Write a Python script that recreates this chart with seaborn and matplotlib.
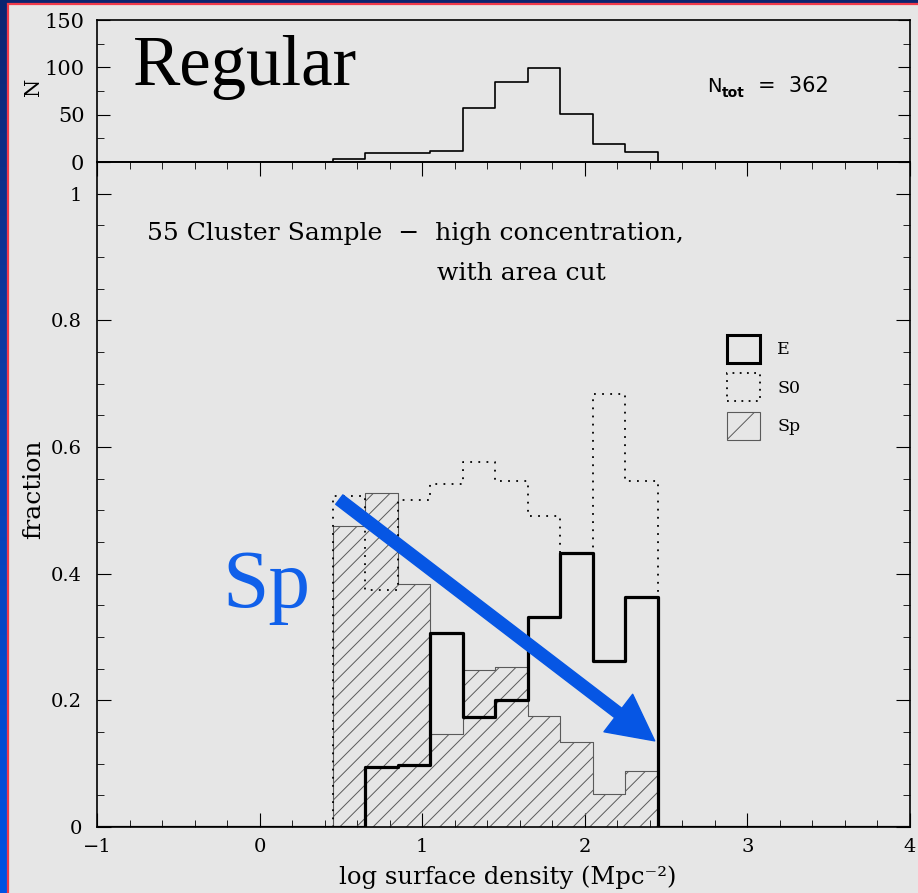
import numpy as np
import pandas as pd
import matplotlib
matplotlib.use("Agg")
import matplotlib.pyplot as plt
import seaborn as sns
from matplotlib.patches import Patch, Rectangle
from matplotlib.colors import LinearSegmentedColormap
from matplotlib.ticker import MultipleLocator, FuncFormatter

# ---- data ----
bin_edges = [0.45, 0.65, 0.85, 1.05, 1.25, 1.45, 1.65, 1.85, 2.05, 2.25, 2.45]
n_counts = [3, 10, 9, 12, 57, 84, 99, 51, 19, 11]
e_frac = [0.000, 0.094, 0.098, 0.306, 0.174, 0.200, 0.331, 0.432, 0.262, 0.363]
s0_frac = [0.522, 0.374, 0.517, 0.541, 0.577, 0.547, 0.491, 0.432, 0.683, 0.547]
sp_frac = [0.475, 0.527, 0.383, 0.147, 0.248, 0.252, 0.176, 0.134, 0.052, 0.088]
x_range = [-1, 4]
n_total = 362

# pad with empty bins out to the axis limits so the outlines drop to zero
full_edges = [x_range[0]] + bin_edges + [x_range[1]]
fe = np.array(full_edges)
df = pd.DataFrame({
    "x": (fe[:-1] + fe[1:]) / 2,
    "N": [0] + n_counts + [0],
    "E": [0.0] + e_frac + [0.0],
    "S0": [0.0] + s0_frac + [0.0],
    "Sp": [0.0] + sp_frac + [0.0],
})

sns.set_style("ticks")
plt.rcParams["font.family"] = ["DejaVu Serif"]
plt.rcParams["hatch.color"] = "#5a5a5a"
plt.rcParams["hatch.linewidth"] = 0.7
for k in ["text.color", "axes.labelcolor", "xtick.color", "ytick.color", "axes.edgecolor"]:
    plt.rcParams[k] = "black"

W, H = 918, 893
fig = plt.figure(figsize=(W / 100, H / 100), dpi=100)


def fx(px):
    return px / W


def fy(py):
    return 1 - py / H


# ---- background: blue gradient + grey panel ----
bg = fig.add_axes([0, 0, 1, 1], zorder=-10)
grad = np.linspace(0, 1, 256).reshape(-1, 1)
cmap = LinearSegmentedColormap.from_list("bl", ["#0b2470", "#0a3fb0", "#0052e4"])
bg.imshow(grad, aspect="auto", cmap=cmap, extent=[0, W, H, 0])
bg.add_patch(Rectangle((8, 4), W + 10, H + 10, facecolor="#e6e6e6",
                       edgecolor="#f03a4a", linewidth=1.6))
bg.set_xlim(0, W)
bg.set_ylim(H, 0)
bg.axis("off")

# ---- axes ----
left, right = fx(97), fx(910)
ax_top = fig.add_axes([left, fy(162), right - left, fy(20) - fy(162)])
ax = fig.add_axes([left, fy(827), right - left, fy(162) - fy(827)])
for a in (ax_top, ax):
    a.set_facecolor("none")
    for s in a.spines.values():
        s.set_color("black")
        s.set_linewidth(1.2)

# top panel: counts
sns.histplot(data=df, x="x", weights="N", bins=full_edges, element="step", fill=False,
             color="black", linewidth=1.2, ax=ax_top)
ax_top.set_xlim(*x_range)
ax_top.set_ylim(0, 150)
ax_top.set_yticks([0, 50, 100, 150])
ax_top.yaxis.set_minor_locator(MultipleLocator(25))
ax_top.tick_params(axis="x", which="both", length=0, labelbottom=False)
ax_top.tick_params(axis="y", which="both", direction="in", left=True, right=True,
                   labelsize=15, pad=9)
ax_top.tick_params(axis="y", which="major", length=9)
ax_top.tick_params(axis="y", which="minor", length=5)
ax_top.set_xlabel("")
ax_top.set_ylabel("")

# bottom panel: fractions
sns.histplot(data=df, x="x", weights="Sp", bins=full_edges, element="step", fill=True,
             color="#5a5a5a", facecolor="none", edgecolor="#5a5a5a", hatch="//",
             linewidth=0.8, ax=ax)
sns.histplot(data=df, x="x", weights="S0", bins=full_edges, element="step", fill=False,
             color="black", linestyle=(0, (1, 3.5)), linewidth=1.3, ax=ax)
sns.histplot(data=df, x="x", weights="E", bins=full_edges, element="step", fill=False,
             color="black", linewidth=2.3, ax=ax)
ax.set_xlim(*x_range)
ax.set_ylim(0, 1.05)
ax.set_xticks(range(-1, 5))
ax.xaxis.set_minor_locator(MultipleLocator(0.2))
ax.set_yticks([0, 0.2, 0.4, 0.6, 0.8, 1.0])
ax.yaxis.set_minor_locator(MultipleLocator(0.05))
ax.yaxis.set_major_formatter(FuncFormatter(lambda v, _: f"{v:g}"))
ax.xaxis.set_major_formatter(FuncFormatter(lambda v, _: f"{v:g}".replace("-", "\u2212")))
ax.tick_params(which="both", direction="in", top=True, right=True, labelsize=14)
ax.tick_params(which="major", length=10)
ax.tick_params(which="minor", length=5)
ax.tick_params(axis="y", pad=11)
ax.tick_params(axis="x", pad=8)
ax.set_xlabel("")
ax.set_ylabel("")

# legend
handles = [
    Patch(facecolor="none", edgecolor="black", linewidth=2.2, label="E"),
    Patch(facecolor="none", edgecolor="black", linewidth=1.3,
          linestyle=(0, (1, 3)), label="S0"),
    Patch(facecolor="none", edgecolor="#5a5a5a", linewidth=0.8, hatch="/", label="Sp"),
]
ax.legend(handles=handles, loc="upper left", bbox_to_anchor=(fx(727), fy(335)),
          bbox_transform=fig.transFigure, frameon=False, borderpad=0,
          fontsize=12.5, handlelength=1.9, handleheight=2.1, labelspacing=0.6,
          handletextpad=1.0, borderaxespad=0)

# blue arrow
ax.annotate("", xy=(2.43, 0.136), xytext=(0.49, 0.517),
            arrowprops=dict(arrowstyle="simple,head_width=3.4,head_length=3.3,tail_width=0.85",
                            mutation_scale=10, color="#0656e4", shrinkA=0, shrinkB=0))

# texts
fig.text(fx(133), fy(85), "Regular", family="Liberation Serif", fontsize=51,
         va="baseline", ha="left")
fig.text(fx(222), fy(607), "Sp", family="Liberation Serif", fontsize=60,
         color="#1060ea", va="baseline", ha="left")
fig.text(fx(707), fy(92), "N", family="DejaVu Sans", fontsize=14, va="baseline", ha="left")
fig.text(fx(722), fy(97), "tot", family="DejaVu Sans", fontsize=10, fontweight="bold",
         va="baseline", ha="left")
fig.text(fx(758), fy(92), "=  " + str(n_total), family="DejaVu Sans", fontsize=15,
         va="baseline", ha="left")
fig.text(fx(147), fy(240), "55 Cluster Sample  \u2212  high concentration,",
         fontsize=18, va="baseline", ha="left")
fig.text(fx(437), fy(280), "with area cut", fontsize=18, va="baseline", ha="left")
fig.text(fx(34), fy(489), "fraction", fontsize=18, rotation=90, va="center", ha="center")
fig.text(fx(34), fy(87), "N", fontsize=15, rotation=90, va="center", ha="center")
fig.text(fx(508), fy(877), "log surface density (Mpc\u207b\u00b2)", fontsize=17.5,
         va="center", ha="center")

fig.savefig("out.png", dpi=100)
